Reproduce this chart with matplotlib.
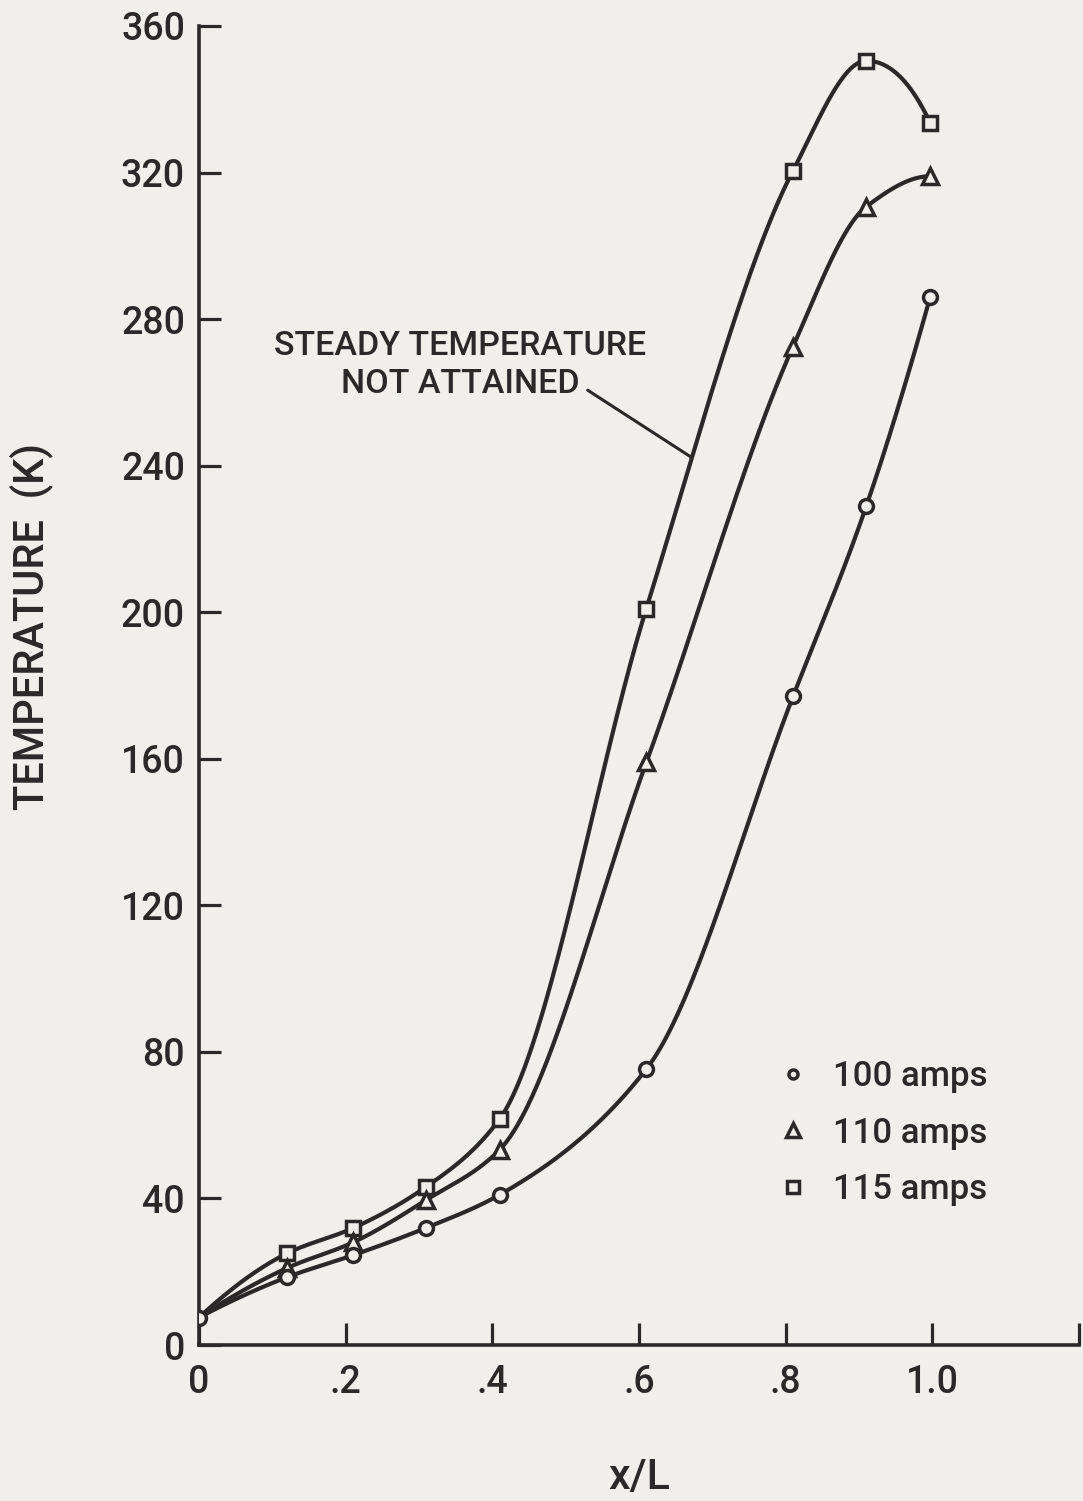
import numpy as np
import matplotlib
matplotlib.use("Agg")
import matplotlib.pyplot as plt
from matplotlib import font_manager as fm
from matplotlib.lines import Line2D

# Measured temperatures along the conductor (x/L) for three currents
x_pos = [0.0, 0.12, 0.21, 0.31, 0.41, 0.61, 0.81, 0.91, 0.997]
temp_100 = [7.5, 18.5, 24.5, 32.0, 41.0, 75.3, 177.0, 229.0, 286.0]
temp_110 = [7.5, 21.0, 28.0, 39.6, 53.3, 159.0, 272.5, 310.7, 319.0]
temp_115 = [7.5, 25.0, 31.9, 43.2, 61.7, 201.0, 320.5, 350.5, 333.6]
series_labels = ["100 amps", "110 amps", "115 amps"]

y_ticks = [0, 40, 80, 120, 160, 200, 240, 280, 320, 360]
x_ticks = [0.0, 0.2, 0.4, 0.6, 0.8, 1.0, 1.2]
x_tick_labels = ["0", ".2", ".4", ".6", ".8", "1.0", ""]

INK = "#2b2829"
PAPER = "#f0efeb"


def has_font(name):
    try:
        fm.findfont(fm.FontProperties(family=name), fallback_to_default=False)
        return True
    except Exception:
        return False


BASE = "Roboto" if has_font("Roboto") else "DejaVu Sans"
NARROW = "Liberation Sans Narrow" if has_font("Liberation Sans Narrow") else BASE
plt.rcParams["font.family"] = [BASE, "DejaVu Sans"]
plt.rcParams["font.weight"] = "medium"


def pchip(x, y, xs):
    """Shape-preserving piecewise cubic Hermite interpolation."""
    x = np.asarray(x, float)
    y = np.asarray(y, float)
    h = np.diff(x)
    d = np.diff(y) / h
    n = len(x)
    m = np.zeros(n)
    for k in range(1, n - 1):
        if d[k - 1] * d[k] <= 0:
            m[k] = 0.0
        else:
            w1 = 2 * h[k] + h[k - 1]
            w2 = h[k] + 2 * h[k - 1]
            m[k] = (w1 + w2) / (w1 / d[k - 1] + w2 / d[k])

    def end_slope(h0, h1, d0, d1):
        s = ((2 * h0 + h1) * d0 - h0 * d1) / (h0 + h1)
        if np.sign(s) != np.sign(d0):
            s = 0.0
        elif np.sign(d0) != np.sign(d1) and abs(s) > abs(3 * d0):
            s = 3 * d0
        return s

    m[0] = end_slope(h[0], h[1], d[0], d[1])
    m[-1] = end_slope(h[-1], h[-2], d[-1], d[-2])
    xs = np.asarray(xs, float)
    idx = np.clip(np.searchsorted(x, xs) - 1, 0, n - 2)
    t = (xs - x[idx]) / h[idx]
    h00 = 2 * t**3 - 3 * t**2 + 1
    h10 = t**3 - 2 * t**2 + t
    h01 = -2 * t**3 + 3 * t**2
    h11 = t**3 - t**2
    return (h00 * y[idx] + h10 * h[idx] * m[idx]
            + h01 * y[idx + 1] + h11 * h[idx] * m[idx + 1])


fig = plt.figure(figsize=(10.83, 15.01), dpi=100, facecolor=PAPER)
ax = fig.add_axes([199 / 1083, 156 / 1501, 880 / 1083, 1319 / 1501])
ax.set_facecolor(PAPER)

xs = np.linspace(x_pos[0], x_pos[-1], 600)
curve_kw = dict(color=INK, lw=3.0, solid_capstyle="round", zorder=2)
mark_kw = dict(ls="none", mfc=PAPER, mec=INK, mew=2.5, zorder=3)

ax.plot(xs, pchip(x_pos, temp_115, xs), **curve_kw)
ax.plot(xs, pchip(x_pos, temp_110, xs), **curve_kw)
ax.plot(xs, pchip(x_pos, temp_100, xs), **curve_kw)

ax.plot(x_pos[1:], temp_115[1:], marker="s", ms=9.5, **mark_kw)
ax.plot(x_pos[1:], temp_110[1:], marker="^", ms=11, **mark_kw)
ax.plot(x_pos, temp_100, marker="o", ms=10, **mark_kw)

ax.set_xlim(0, 1.2)
ax.set_ylim(0, 360)
ax.set_xticks(x_ticks)
ax.set_xticklabels(x_tick_labels)
ax.set_yticks(y_ticks)
ax.set_yticklabels([str(v) for v in y_ticks])

for side in ("top", "right"):
    ax.spines[side].set_visible(False)
for side in ("left", "bottom"):
    ax.spines[side].set_color(INK)
    ax.spines[side].set_linewidth(2.6)
    ax.spines[side].set_capstyle("projecting")

ax.tick_params(axis="both", direction="in", length=16, width=2.3,
               color=INK, labelcolor=INK, labelsize=27)
ax.tick_params(axis="x", pad=14)
ax.tick_params(axis="y", pad=10)

fig.text(31 / 1083, 1 - 626 / 1501, "TEMPERATURE  (K)", rotation=90,
         ha="center", va="center", fontsize=30, color=INK,
         family=[NARROW, "DejaVu Sans"])
fig.text(639 / 1083, 1 - 1478 / 1501, "x/L", ha="center", va="center",
         fontsize=31, color=INK, family=[NARROW, "DejaVu Sans"])

# Note on the 115 A curve
ax.text(0.356, 267.5, "STEADY TEMPERATURE\nNOT ATTAINED", ha="center",
        va="center", fontsize=24.5, color=INK, linespacing=1.25)
x_note = 0.672
y_note = float(pchip(x_pos, temp_115, [x_note])[0])
ax.annotate("", xy=(x_note, y_note), xytext=(0.530, 260.6),
            arrowprops=dict(arrowstyle="-", color=INK, lw=2.2,
                            shrinkA=0, shrinkB=0))

handles = [
    Line2D([], [], ls="none", marker="o", ms=6.5, mfc=PAPER, mec=INK, mew=2.5),
    Line2D([], [], ls="none", marker="^", ms=9.5, mfc=PAPER, mec=INK, mew=2.5),
    Line2D([], [], ls="none", marker="s", ms=8, mfc=PAPER, mec=INK, mew=2.5),
]
leg = fig.legend(handles, series_labels, loc="upper left",
                 bbox_to_anchor=(776 / 1083, 1 - 1060 / 1501),
                 frameon=False, fontsize=25, handlelength=1.0,
                 handletextpad=0.63, labelspacing=0.68, borderpad=0,
                 borderaxespad=0)
for t in leg.get_texts():
    t.set_color(INK)

fig.savefig("out.png", dpi=100, facecolor=PAPER)
